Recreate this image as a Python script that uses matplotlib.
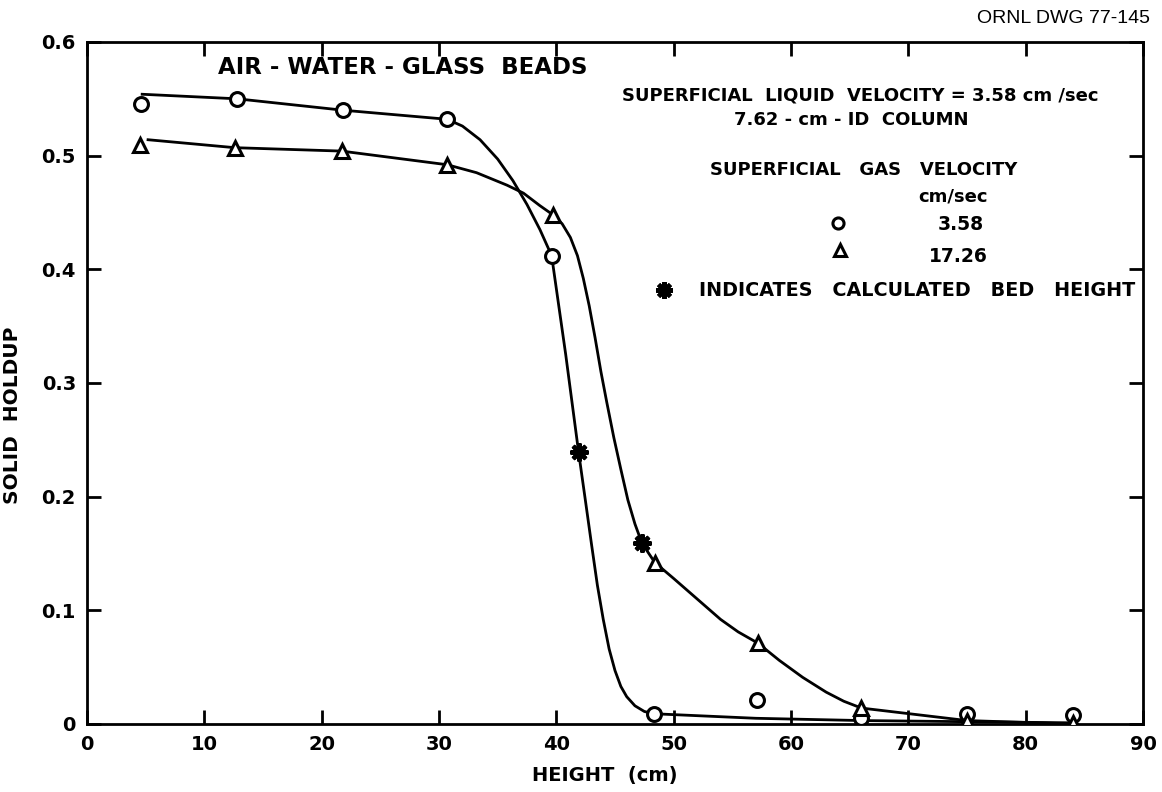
import matplotlib
matplotlib.use("Agg")
import matplotlib.pyplot as plt
from matplotlib.ticker import FixedLocator

# ---- measured points ------------------------------------------------------
# superficial gas velocity 3.58 cm/sec (open circles)
height_c = [4.6, 12.8, 21.8, 30.7, 39.6, 48.3, 57.1, 66.0, 75.0, 84.0]
holdup_c = [0.545, 0.550, 0.540, 0.532, 0.412, 0.009, 0.021, 0.005, 0.009, 0.008]

# superficial gas velocity 17.26 cm/sec (open triangles)
height_t = [4.5, 12.6, 21.7, 30.7, 39.7, 48.4, 57.2, 66.0, 75.0, 84.0]
holdup_t = [0.509, 0.507, 0.504, 0.492, 0.448, 0.142, 0.071, 0.014, 0.003, 0.001]

# calculated bed heights (stars)
bed_height = [41.9, 47.3]
bed_holdup = [0.239, 0.159]

# ---- hand-faired curves through the data ------------------------------------
curve_c_x = [4.7, 12.8, 21.8, 30.7, 32.0, 33.5, 35.0, 36.3, 37.5, 38.6,
             39.6, 40.8, 41.9, 42.5, 43.0, 43.5, 44.0, 44.5, 45.0, 45.5,
             46.0, 46.7, 47.5, 48.3, 57.0, 66.0, 75.0, 84.0]
curve_c_y = [0.554, 0.550, 0.540, 0.532, 0.526, 0.514, 0.497, 0.478, 0.457, 0.435,
             0.412, 0.325, 0.239, 0.195, 0.158, 0.122, 0.092, 0.066, 0.047, 0.033,
             0.024, 0.016, 0.011, 0.009, 0.005, 0.003, 0.002, 0.001]

curve_t_x = [5.2, 12.6, 21.7, 30.7, 33.2, 35.8, 37.2, 38.6, 39.7, 40.5,
             41.2, 41.8, 42.3, 42.8, 43.3, 43.8, 44.3, 44.9, 45.5, 46.1,
             46.7, 47.3, 48.4, 50.0, 52.0, 54.0, 55.5, 57.2, 59.0, 61.0,
             63.0, 64.5, 66.0, 75.0, 84.0]
curve_t_y = [0.514, 0.507, 0.504, 0.492, 0.485, 0.474, 0.467, 0.456, 0.448, 0.440,
             0.428, 0.412, 0.392, 0.368, 0.340, 0.310, 0.283, 0.252, 0.224, 0.197,
             0.176, 0.159, 0.142, 0.128, 0.110, 0.092, 0.081, 0.071, 0.056, 0.041,
             0.028, 0.020, 0.014, 0.003, 0.000]

x_ticks = [0, 10, 20, 30, 40, 50, 60, 70, 80, 90]
x_tick_labels = ["0", "10", "20", "30", "40", "50", "60", "70", "80", "90"]
y_ticks = [0, 0.1, 0.2, 0.3, 0.4, 0.5, 0.6]
y_tick_labels = ["0", "0.1", "0.2", "0.3", "0.4", "0.5", "0.6"]

LW = 2.0
FONT = "DejaVu Sans"

fig = plt.figure(figsize=(11.62, 7.92), dpi=100)
ax = fig.add_axes([0.0749, 0.0859, 0.9087, 0.8611])

ax.plot(curve_c_x, curve_c_y, color="black", lw=LW, zorder=2)
ax.plot(curve_t_x, curve_t_y, color="black", lw=LW, zorder=2)

ax.plot(height_c, holdup_c, "o", ms=10, mfc="white", mec="black", mew=2.2,
        ls="none", zorder=4)
ax.plot(height_t, holdup_t, "^", ms=10, mfc="white", mec="black", mew=2.2,
        ls="none", zorder=4)
ax.plot(bed_height, bed_holdup, marker=(8, 2, 0), ms=13, color="black", mew=3.0,
        ls="none", zorder=5)

ax.set_xlim(0, 90)
ax.set_ylim(0, 0.6)
ax.xaxis.set_major_locator(FixedLocator(x_ticks))
ax.yaxis.set_major_locator(FixedLocator(y_ticks))
ax.set_xticklabels(x_tick_labels, fontsize=14, fontweight="bold", family=FONT)
ax.set_yticklabels(y_tick_labels, fontsize=14, fontweight="bold", family=FONT)
ax.tick_params(direction="in", length=10, width=2, top=True, right=True, pad=8)

for s in ax.spines.values():
    s.set_linewidth(2)

ax.set_xlabel("HEIGHT  (cm)", fontsize=14, fontweight="bold", family=FONT)
ax.set_ylabel("SOLID  HOLDUP", fontsize=14.5, fontweight="bold", family=FONT)
ax.xaxis.set_label_coords(0.49, -0.062)
ax.yaxis.set_label_coords(-0.062, 0.452)

# annotations
txt = dict(fontweight="bold", family=FONT, color="black", transform=ax.transAxes)
ax.text(0.124, 0.962, "AIR - WATER - GLASS  BEADS", fontsize=16.5,
        ha="left", va="center", **txt)
ax.text(0.732, 0.922, "SUPERFICIAL  LIQUID  VELOCITY = 3.58 cm /sec",
        fontsize=13, ha="center", va="center", **txt)
ax.text(0.724, 0.886, "7.62 - cm - ID  COLUMN", fontsize=13,
        ha="center", va="center", **txt)
ax.text(0.736, 0.812, "SUPERFICIAL   GAS   VELOCITY", fontsize=13,
        ha="center", va="center", **txt)
ax.text(0.820, 0.773, "cm/sec", fontsize=13, ha="center", va="center", **txt)

ax.plot([0.711], [0.735], "o", ms=8, mfc="white", mec="black", mew=2.2,
        transform=ax.transAxes, clip_on=False)
ax.text(0.827, 0.732, "3.58", fontsize=13.5, ha="center", va="center", **txt)
ax.plot([0.713], [0.695], "^", ms=8, mfc="white", mec="black", mew=2.2,
        transform=ax.transAxes, clip_on=False)
ax.text(0.825, 0.685, "17.26", fontsize=13.5, ha="center", va="center", **txt)

ax.plot([0.546], [0.636], marker=(8, 2, 0), ms=12, color="black", mew=3.0,
        transform=ax.transAxes, clip_on=False)
ax.text(0.580, 0.636, "INDICATES   CALCULATED   BED   HEIGHT",
        fontsize=13.8, ha="left", va="center", **txt)

fig.text(0.990, 0.977, "ORNL DWG 77-145", fontsize=14, family="Liberation Sans",
         ha="right", va="center")

fig.savefig("out.png", dpi=100)
